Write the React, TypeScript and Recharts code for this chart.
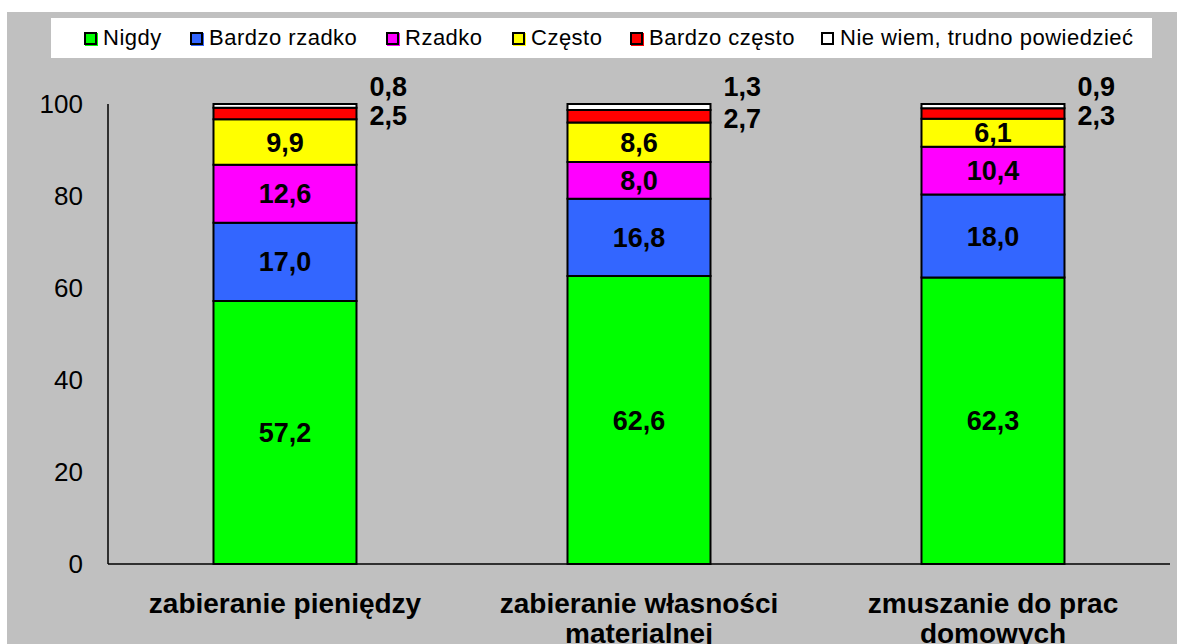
import React from 'react';
import { BarChart, Bar, XAxis, YAxis, LabelList } from 'recharts';

const categories: string[][] = [
  ['zabieranie pieniędzy'],
  ['zabieranie własności', 'materialnej'],
  ['zmuszanie do prac', 'domowych'],
];
const nigdy = [57.2, 62.6, 62.3];
const bardzoRzadko = [17.0, 16.8, 18.0];
const rzadko = [12.6, 8.0, 10.4];
const czesto = [9.9, 8.6, 6.1];
const bardzoCzesto = [2.5, 2.7, 2.3];
const nieWiem = [0.8, 1.3, 0.9];
const yTicks = [0, 20, 40, 60, 80, 100];

const seriesNames = ['Nigdy', 'Bardzo rzadko', 'Rzadko', 'Często', 'Bardzo często', 'Nie wiem, trudno powiedzieć'];
const seriesKeys = ['nigdy', 'bardzoRzadko', 'rzadko', 'czesto', 'bardzoCzesto', 'nieWiem'];
const seriesColors = ['#00FF00', '#3366FF', '#FF00FF', '#FFFF00', '#FF0000', '#FFFFFF'];
const legendX = [77, 183, 379, 505, 623, 814];

const data = categories.map((c, i) => ({
  name: c.join('\n'),
  nigdy: nigdy[i],
  bardzoRzadko: bardzoRzadko[i],
  rzadko: rzadko[i],
  czesto: czesto[i],
  bardzoCzesto: bardzoCzesto[i],
  nieWiem: nieWiem[i],
}));

const FONT = '"Liberation Sans", Arial, sans-serif';
const fmt = (v: any) => Number(v).toFixed(1).replace('.', ',');

const XTick = (props: any) => {
  const { x, y, payload } = props;
  const lines = String(payload.value).split('\n');
  return (
    <g transform={`translate(${x},${y})`}>
      {lines.map((l, i) => (
        <text key={i} x={0} y={41 + i * 30} textAnchor="middle" fontFamily={FONT} fontSize={28} fontWeight="bold" fill="#000">
          {l}
        </text>
      ))}
    </g>
  );
};

const SideLabel = (useTop: boolean) => (props: any) => {
  const { x, y, width, height, value } = props;
  const tx = Number(x) + Number(width) + 13;
  const ty = useTop ? Number(y) - 17 : Number(y) + Number(height) / 2 + 3;
  return (
    <text x={tx} y={ty} dominantBaseline="central" fontFamily={FONT} fontSize={27} fontWeight="bold" fill="#000">
      {fmt(value)}
    </text>
  );
};

const LegendBox = () => (
  <div style={{ position: 'absolute', left: 44, top: 6, width: 1101, height: 40, background: '#FFFFFF' }}>
    {seriesNames.map((n, i) => (
      <div key={n} style={{ position: 'absolute', left: legendX[i] - 44, top: 0, height: 40, display: 'flex', alignItems: 'center' }}>
        <div style={{ width: 9, height: 9, background: seriesColors[i], border: '2px solid #000', boxShadow: i === 5 ? 'none' : `1px 1px 0 ${seriesColors[i]}` }} />
        <span style={{ marginLeft: 6, fontFamily: FONT, fontSize: 22, color: '#000', whiteSpace: 'nowrap', letterSpacing: 0.5 }}>{n}</span>
      </div>
    ))}
  </div>
);

export default function App() {
  return (
    <div style={{ position: 'absolute', left: 7, top: 12, width: 1170, height: 632, background: '#C0C0C0' }}>
      <BarChart
        width={1170}
        height={632}
        data={data}
        margin={{ top: 92, right: 7, bottom: 10, left: 41 }}
        barCategoryGap="29.8%"
      >
        <XAxis
          dataKey="name"
          tick={<XTick />}
          tickLine={false}
          axisLine={{ stroke: '#000', strokeWidth: 1.5 }}
          height={70}
          interval={0}
        />
        <YAxis
          domain={[0, 100]}
          ticks={yTicks}
          width={60}
          tickLine={false}
          tickSize={0}
          tickMargin={25}
          axisLine={{ stroke: '#000', strokeWidth: 1.5 }}
          tick={{ fontFamily: FONT, fontSize: 26, fill: '#000' }}
          interval={0}
        />
        {seriesKeys.map((k, i) => (
          <Bar key={k} dataKey={k} stackId="a" fill={seriesColors[i]} stroke="#000" strokeWidth={2} isAnimationActive={false}>
            {i < 4 ? (
              <LabelList dataKey={k} position="center" formatter={fmt} style={{ fontFamily: FONT, fontSize: 27, fontWeight: 'bold', fill: '#000' }} />
            ) : (
              <LabelList dataKey={k} content={SideLabel(i === 5)} />
            )}
          </Bar>
        ))}
      </BarChart>
      <LegendBox />
    </div>
  );
}
